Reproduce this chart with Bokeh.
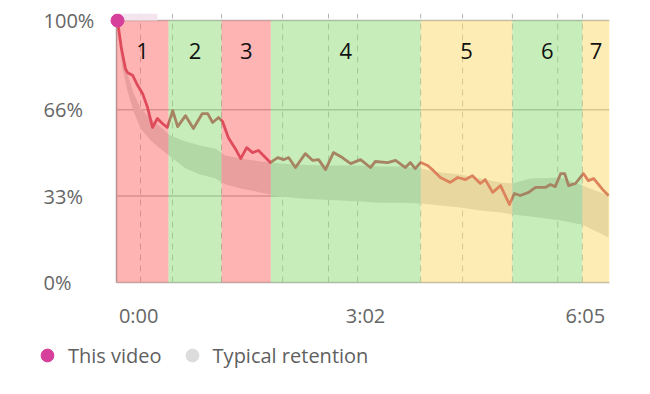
from bokeh.plotting import figure
from bokeh.models import (Range1d, Legend, LegendItem, ColumnDataSource)
from bokeh.core.properties import value
from bokeh.embed import file_html
from bokeh.resources import INLINE

FONT = "Open Sans"

# ---- data (x = position along the video, 0..100 of the timeline) ----
video_x = [0.2, 1.0, 1.8, 2.2, 3.3, 4.3, 5.3, 6.3, 7.3, 8.3, 9.3, 10.3, 11.4, 12.4, 14.0, 15.6,
           17.4, 18.5, 19.5, 20.7, 21.5, 22.7, 24.1, 25.2, 26.4, 27.6, 28.8, 30.2, 31.2, 32.7,
           33.9, 34.9, 36.3, 38.3, 39.8, 41.0, 42.4, 44.0, 45.8, 47.5, 49.5, 51.5, 52.5, 55.0,
           56.6, 58.6, 59.6, 60.6, 61.7, 63.1, 64.3, 65.7, 67.7, 69.2, 70.8, 72.2, 73.8, 74.8,
           76.3, 77.9, 79.7, 80.7, 81.9, 83.6, 85.0, 87.0, 88.0, 89.0, 90.1, 90.9, 91.7, 93.1,
           94.7, 95.7, 96.8, 98.8, 99.8]
video_y = [100, 89.3, 81.7, 80.2, 79.0, 75.2, 72.1, 66.8, 59.2, 62.6, 60.7, 59.2, 65.6, 59.5, 63.7, 58.8,
           64.5, 64.5, 61.1, 63.0, 61.5, 55.3, 51.1, 47.3, 51.5, 49.6, 50.4, 47.7, 45.8, 47.7,
           46.9, 47.7, 43.9, 49.2, 46.6, 46.9, 43.1, 49.6, 47.7, 45.4, 46.9, 43.9, 46.2, 45.8,
           46.6, 43.9, 45.8, 43.5, 45.8, 44.7, 42.7, 40.1, 38.2, 40.1, 39.3, 40.8, 37.8, 39.3,
           34.4, 37.0, 29.8, 34.0, 33.2, 34.4, 36.3, 36.3, 37.4, 36.6, 41.6, 41.6, 37.0, 37.8,
           41.6, 38.9, 39.7, 35.1, 33.2]

typical_x = [0.2, 1.2, 2.2, 3.4, 4.9, 6.9, 8.9, 10.9, 14.0, 17.0, 20.1, 22.1, 25.2, 29.2, 33.3, 37.3,
             41.4, 45.4, 49.5, 53.5, 57.6, 61.7, 65.7, 69.8, 73.8, 77.9, 80.3, 84.0, 90.1, 94.5,
             98.2, 99.8]
typical_hi = [99.2, 88.5, 80.2, 72.5, 66.4, 62.6, 59.5, 56.1, 53.8, 52.3, 51.1, 48.5, 47.3, 46.2, 45.4, 45.0,
              44.7, 44.7, 44.7, 44.3, 44.3, 43.5, 42.0, 41.2, 39.7, 38.2, 37.8, 39.7, 40.1, 37.0,
              34.4, 33.2]
typical_lo = [96.2, 81.7, 73.3, 65.6, 58.8, 54.2, 51.1, 48.1, 43.5, 41.2, 39.7, 37.4, 35.9, 34.4, 32.8, 32.1,
              31.7, 31.3, 30.9, 30.5, 30.5, 30.2, 29.4, 28.6, 27.5, 26.7, 26.0, 25.2, 23.7, 22.1,
              18.7, 17.2]

seg_start = [0.0, 10.55, 21.3, 31.3, 61.7, 80.3, 94.5]
seg_end = [10.55, 21.3, 31.3, 61.7, 80.3, 94.5, 100.0]
seg_labels = ["1", "2", "3", "4", "5", "6", "7"]
seg_kind = ["drop", "hold", "drop", "hold", "flat", "hold", "flat"]

dash_x = [4.87, 11.36, 21.3, 33.7, 43.0, 48.9, 61.7, 70.2, 80.3, 89.5, 94.5]
y_ticks = [0, 33, 66, 100]
y_tick_labels = ["0%", "33%", "66%", "100%"]
x_ticks = [4.5, 50.5, 95.1]
x_tick_labels = ["0:00", "3:02", "6:05"]

kind_color = {"drop": "#ff6969", "hold": "#8ddb75", "flat": "#fbd969"}

Y_TOP = 102.7
# ---- figure ----
p = figure(width=642, height=382, x_range=Range1d(-19.68, 100), y_range=Range1d(-36.64, Y_TOP),
           output_backend="svg", toolbar_location=None,
           min_border_left=19, min_border_right=33, min_border_top=13, min_border_bottom=4)
p.outline_line_color = None
p.background_fill_color = "white"
p.xaxis.visible = False
p.yaxis.visible = False
p.xgrid.visible = False
p.ygrid.visible = False

# dashed vertical guides (top of chart down to 0%)
p.segment(x0=dash_x, x1=dash_x, y0=[0] * len(dash_x), y1=[Y_TOP] * len(dash_x),
          line_color="#b4b4b4", line_width=1, line_dash="6 5")
# horizontal grid lines across the timeline
p.segment(x0=[seg_start[0]] * len(y_ticks), x1=[seg_end[-1]] * len(y_ticks), y0=y_ticks, y1=y_ticks,
          line_color="#b4b4b4", line_width=1.5)
# left axis line
p.segment(x0=[seg_start[0]], x1=[seg_start[0]], y0=[0], y1=[100], line_color="#a0a0a0", line_width=1.5)

# typical retention band
p.varea(x=typical_x, y1=typical_lo, y2=typical_hi, fill_color="#d4d4d4")
# legend handle for the typical band (hidden in the plot)
typ_key = p.scatter(x=typical_x[:1], y=typical_hi[:1], size=13, color="#dcdcdc", visible=False)

# this video line
p.line(video_x, video_y, line_color="#bf2d4d", line_width=2.8, line_join="round")

# section overlays
src = ColumnDataSource(dict(left=seg_start, right=seg_end, bottom=[0] * 7, top=[100] * 7,
                            color=[kind_color[k] for k in seg_kind],
                            cx=[(a + b) / 2 for a, b in zip(seg_start, seg_end)],
                            cy=[88.5] * 7, label=seg_labels))
p.quad(left="left", right="right", bottom="bottom", top="top", fill_color="color",
       fill_alpha=0.5, line_color=None, source=src)

# pale scrubber strip at the top
p.quad(left=[seg_start[0]], right=[8.3], bottom=[100], top=[Y_TOP], fill_color="#f3e4ee",
       line_color=None)

p.text(x="cx", y="cy", text="label", source=src, text_font=value(FONT), text_font_size="22px",
       text_color="#111111", text_align="center", text_baseline="middle")

# start point
dot = p.scatter(video_x[:1], video_y[:1], size=13, color="#d6409a")

# y tick labels (left aligned)
p.text(x=[-14.8] * len(y_ticks), y=y_ticks, text=y_tick_labels, text_font=value(FONT),
       text_font_size="20px", text_color="#666666", text_align="left", text_baseline="middle")
# x tick labels
p.text(x=x_ticks, y=[-12.4] * len(x_ticks), text=x_tick_labels, text_font=value(FONT),
       text_font_size="20px", text_color="#666666", text_align="center", text_baseline="middle")

# legend
legend = Legend(items=[LegendItem(label="This video", renderers=[dot]),
                       LegendItem(label="Typical retention", renderers=[typ_key])],
                orientation="horizontal", location=(12, 7),
                glyph_width=32, glyph_height=32, label_standoff=5, spacing=14,
                padding=0, margin=0, border_line_color=None, background_fill_alpha=0,
                inactive_fill_alpha=0,
                label_text_font=FONT, label_text_font_size="20px", label_text_color="#5f5f5f")
p.add_layout(legend)

open("out.html", "w").write(file_html(p, INLINE))
